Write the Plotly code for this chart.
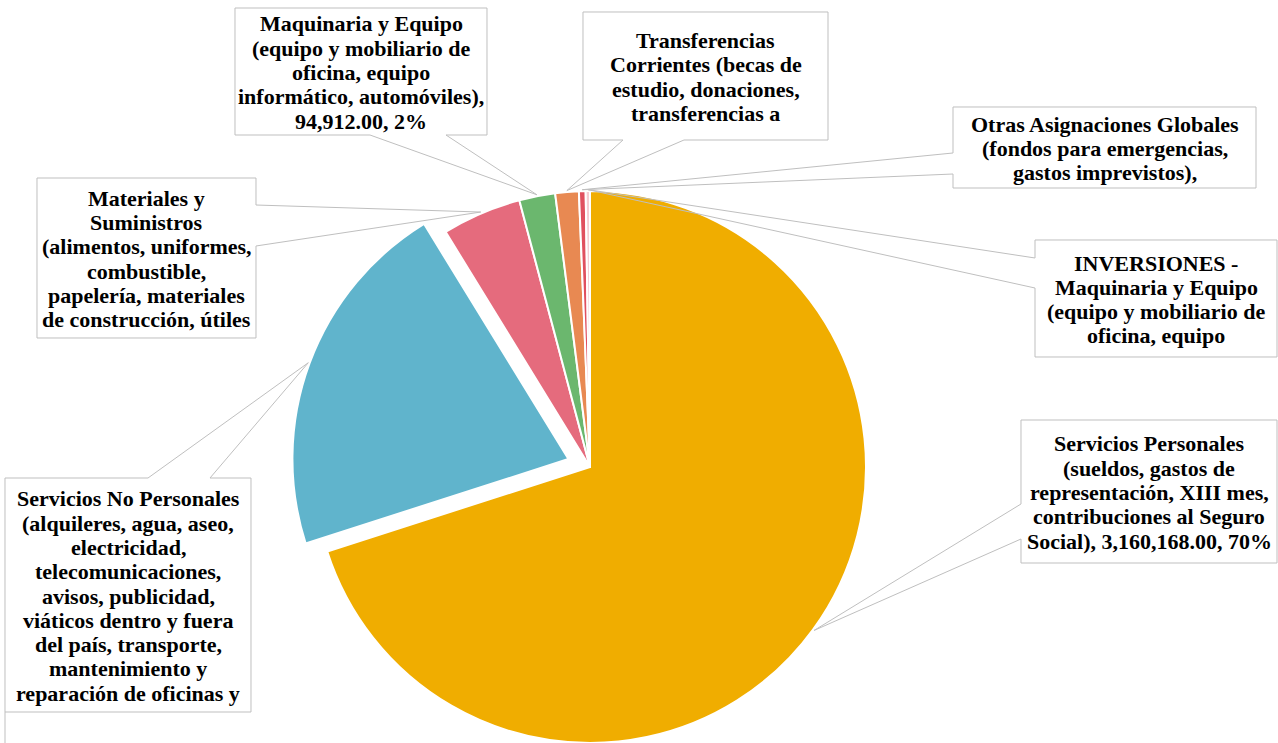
import math
import plotly.graph_objects as go

# ---------------- data ----------------
categories = [
    "Servicios Personales",
    "Servicios No Personales",
    "Materiales y Suministros",
    "Maquinaria y Equipo",
    "Transferencias Corrientes",
    "Otras Asignaciones Globales",
    "INVERSIONES - Maquinaria y Equipo",
]
amounts = [3160168.00, 955700.00, 209500.00, 94912.00, 62100.00, 17600.00, 11300.00]
slice_colors = ["#F0AD00", "#60B4CC", "#E56B7D", "#6BB76E", "#E88952", "#E0505F", "#F6CDD3"]
label_lines = [
    ["Servicios Personales", "(sueldos, gastos de", "representación, XIII mes,",
     "contribuciones al Seguro", "Social), 3,160,168.00, 70%"],
    ["Servicios No Personales", "(alquileres, agua, aseo,", "electricidad,",
     "telecomunicaciones,", "avisos, publicidad,", "viáticos dentro y fuera",
     "del país, transporte,", "mantenimiento y", "reparación de oficinas y"],
    ["Materiales y", "Suministros", "(alimentos, uniformes,", "combustible,",
     "papelería, materiales", "de construcción, útiles"],
    ["Maquinaria y Equipo", "(equipo y mobiliario de", "oficina, equipo",
     "informático, automóviles),", "94,912.00, 2%"],
    ["Transferencias", "Corrientes (becas de", "estudio, donaciones,", "transferencias a"],
    ["Otras Asignaciones Globales", "(fondos para emergencias,", "gastos imprevistos),"],
    ["INVERSIONES -", "Maquinaria y Equipo", "(equipo y mobiliario de", "oficina, equipo"],
]

# ---------------- layout constants (pixels) ----------------
W, H = 1278, 743
CX, CY, R = 590.0, 467.0, 276.0
PULLED = 1          # index of exploded slice
PULL_PX = 23.0
TIP_K = 1.005
LINE_GREY = "#BFBFBF"
LINE_PITCH = 24.3
FONT = dict(family="Liberation Serif, Times New Roman, serif", size=22, color="black")

# callout boxes: x0, y0, x1, y1, side of tail, base1, base2
boxes = [
    (1021, 420, 1277, 563, "left", 504, 539),
    (5, 478, 251, 712, "top", 148, 210),
    (37, 178, 256, 338, "right", 205, 246),
    (235, 8, 487, 135, "bottom", 370, 446),
    (583, 12, 828, 140, "bottom", 623, 684),
    (953, 107, 1256, 188, "left", 153, 174),
    (1035, 240, 1277, 357, "left", 258, 288),
]

total = sum(amounts)
fracs = [a / total for a in amounts]
mids = []
acc = 0.0
for f in fracs:
    mids.append(360.0 * (acc + f / 2))
    acc += f


def center_of(i):
    if i == PULLED:
        t = math.radians(mids[i])
        return CX + PULL_PX * math.sin(t), CY - PULL_PX * math.cos(t)
    return CX, CY


def px(x, y):
    return x / W, 1 - y / H


def domain_for(cx, cy):
    return dict(x=[(cx - R) / W, (cx + R) / W], y=[max(0.0, 1 - (cy + R) / H), 1 - (cy - R) / H])


transparent = "rgba(0,0,0,0)"
colsA = [c if i != PULLED else transparent for i, c in enumerate(slice_colors)]
lineA = ["white" if i != PULLED else transparent for i in range(len(amounts))]
colsB = [c if i == PULLED else transparent for i, c in enumerate(slice_colors)]
lineB = ["white" if i == PULLED else transparent for i in range(len(amounts))]

fig = go.Figure()
fig.add_trace(go.Pie(
    labels=categories, values=amounts, sort=False, direction="clockwise", rotation=0,
    marker=dict(colors=colsA, line=dict(color=lineA, width=2)),
    textinfo="none", showlegend=False, domain=domain_for(CX, CY),
))
pcx, pcy = center_of(PULLED)
fig.add_trace(go.Pie(
    labels=categories, values=amounts, sort=False, direction="clockwise", rotation=0,
    marker=dict(colors=colsB, line=dict(color=lineB, width=2)),
    textinfo="none", showlegend=False, hoverinfo="skip", domain=domain_for(pcx, pcy),
))

shapes = []
annotations = []
for i, (x0, y0, x1, y1, side, b1, b2) in enumerate(boxes):
    cx, cy = center_of(i)
    t = math.radians(mids[i])
    tip = (cx + R * TIP_K * math.sin(t), cy - R * TIP_K * math.cos(t))
    if side == "bottom":
        pts = [(x0, y0), (x1, y0), (x1, y1), (b2, y1), tip, (b1, y1), (x0, y1)]
    elif side == "top":
        pts = [(x0, y0), (b1, y0), tip, (b2, y0), (x1, y0), (x1, y1), (x0, y1)]
    elif side == "left":
        pts = [(x0, y0), (x1, y0), (x1, y1), (x0, y1), (x0, b2), tip, (x0, b1)]
    else:
        pts = [(x0, y0), (x1, y0), (x1, b1), tip, (x1, b2), (x1, y1), (x0, y1)]
    path = "M " + " L ".join("%.5f,%.5f" % px(*p) for p in pts) + " Z"
    shapes.append(dict(type="path", xref="paper", yref="paper", path=path,
                       line=dict(color=LINE_GREY, width=1), fillcolor=transparent))
    lines = label_lines[i]
    n = len(lines)
    mx, my = (x0 + x1) / 2, (y0 + y1) / 2 + 1
    for k, s in enumerate(lines):
        ax, ay = px(mx, my + (k - (n - 1) / 2) * LINE_PITCH)
        annotations.append(dict(x=ax, y=ay, xref="paper", yref="paper", text="<b>%s</b>" % s,
                                showarrow=False, xanchor="center", yanchor="middle",
                                align="center", font=FONT))

# clipped continuation of the lower-left callout frame
lx0, ly0 = px(5, 712)
lx1, ly1 = px(5, H)
shapes.append(dict(type="line", xref="paper", yref="paper", x0=lx0, y0=ly0, x1=lx1, y1=ly1,
                   line=dict(color=LINE_GREY, width=1)))

fig.update_layout(
    width=W, height=H, margin=dict(l=0, r=0, t=0, b=0),
    paper_bgcolor="white", plot_bgcolor="white", showlegend=False,
    shapes=shapes, annotations=annotations,
)
fig.write_html("out.html", config={"displayModeBar": False},
               post_script="document.body.style.margin='0';document.body.style.overflow='hidden';")
